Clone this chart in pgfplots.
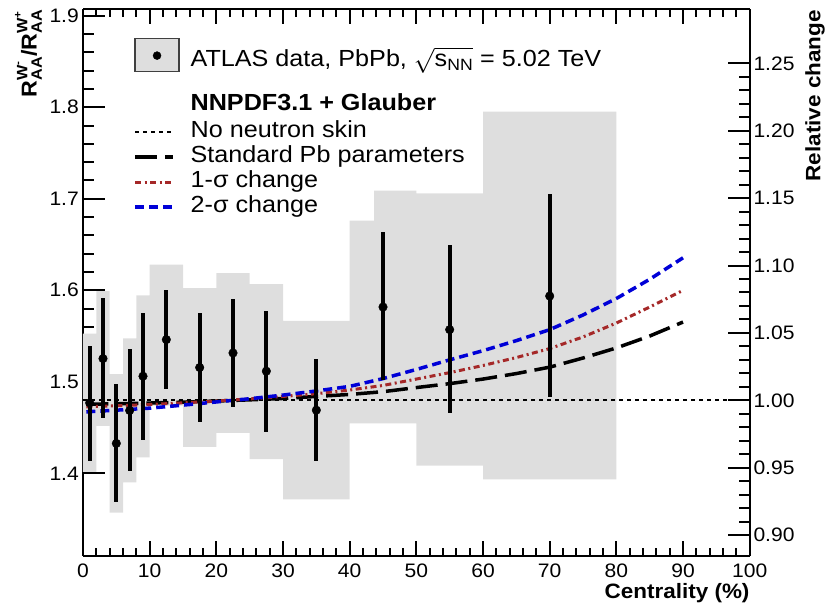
\documentclass[border=0pt]{standalone}
\usepackage{amsmath}
\usepackage{fontspec}
\setmainfont{Liberation Sans}[FakeStretch=1.08]
\usepackage{pgfplots}
\pgfplotsset{compat=1.18}
\usepackage{pgfplotstable}
\definecolor{boxgrey}{RGB}{222,222,222}
\definecolor{sigred}{RGB}{165,40,40}
\definecolor{sigblue}{RGB}{0,0,215}
\newcommand\tickfont{\fontsize{19.5}{21}\selectfont}
\newcommand\labfont{\bfseries\fontsize{20.8}{23}\selectfont}
\newcommand\ylabfont{\bfseries\fontsize{21.5}{23}\selectfont}

\pgfplotstableread{
x    y      ep     em
1    1.4770 0.0618 0.0633
3    1.5254 0.0661 0.0654
5    1.4327 0.0644 0.0637
7    1.4687 0.0669 0.0662
9    1.5061 0.0695 0.0698
12.5 1.5461 0.0538 0.0545
17.5 1.5156 0.0600 0.0600
22.5 1.5315 0.0585 0.0589
27.5 1.5116 0.0654 0.0662
35   1.4690 0.0556 0.0556
45   1.5817 0.0818 0.0800
55   1.5570 0.0920 0.0916
70   1.5937 0.1116 0.1108
}\atlasdata

\pgfplotstableread{
x    y
0.5  1.4755
5    1.4760
10   1.4768
15   1.4778
20   1.4790
25   1.4803
30   1.4818
35   1.4840
40   1.4862
45   1.4892
50   1.4937
55   1.4980
60   1.5030
65   1.5090
70   1.5160
75   1.5260
80   1.5370
85   1.5500
90   1.5653
}\standard

\pgfplotstableread{
x    y
0.5  1.4727
5    1.4738
10   1.4752
15   1.4770
20   1.4790
25   1.4813
30   1.4840
35   1.4870
40   1.4910
45   1.4960
50   1.5030
55   1.5100
60   1.5178
65   1.5265
70   1.5363
75   1.5490
80   1.5642
85   1.5817
90   1.5999
}\onesigma

\pgfplotstableread{
x    y
0.5  1.4672
5    1.4690
10   1.4712
15   1.4745
20   1.4780
25   1.4815
30   1.4855
35   1.4900
40   1.4950
45   1.5035
50   1.5135
55   1.5240
60   1.5340
65   1.5450
70   1.5570
75   1.5730
80   1.5910
85   1.6120
90   1.6355
}\twosigma

\pgfplotsset{
  common/.style={
    scale only axis, width=666.7pt, height=546.4pt,
    at={(0pt,0pt)}, anchor=south west,
    xmin=0, xmax=100,
    tick align=inside,
    axis line style={-, line width=2pt, black},
    tick style={line width=2pt, black},
    /pgf/number format/assume math mode=true,
    tick label style={font=\tickfont},
  },
}

\begin{document}
\begin{tikzpicture}
\useasboundingbox (-83pt,-55.3pt) rectangle (747pt,555.7pt);

% main axis: data, curves, left y axis, legend
\begin{axis}[common,
  ymin=1.31, ymax=1.907,
  axis x line=none, axis y line*=left,
  ytick={1.4,1.5,1.6,1.7,1.8,1.9}, minor y tick num=4,
  major tick length=22pt, minor tick length=11pt,
  yticklabel style={anchor=east, inner sep=0pt, xshift=-4pt,
    /pgf/number format/.cd, fixed, fixed zerofill, precision=1},
  ylabel={$\textbf{R}^{\textbf{W}^{\textbf{-}}}_{\textbf{AA}}\textbf{/}\textbf{R}^{\textbf{W}^{\textbf{+}}}_{\textbf{AA}}$},
  every axis y label/.style={at={(axis description cs:-0.0615,1)}, rotate=90,
    anchor=south east, inner sep=0pt, font=\ylabfont},
  legend cell align=left,
  legend image code/.code={\draw[#1] (0pt,1.5pt) -- (38.4pt,1.5pt);},
  legend style={at={(axis description cs:0.07545,0.9480)}, anchor=north west,
    draw=none, fill=none, inner sep=0pt, outer sep=0pt,
    /tikz/column sep=11pt, /tikz/row sep=0pt,
    font=\fontsize{23.3}{26}\selectfont,
    nodes={inner sep=0pt, outer sep=0pt, text height=16.5pt, text depth=8.7pt}},
]
% systematic uncertainty boxes
\addplot[fill=boxgrey, draw=none, forget plot] coordinates {
 (0,1.5527) (2,1.5527) (2,1.5991) (4,1.5991) (4,1.5083) (6,1.5083)
 (6,1.5475) (8,1.5475) (8,1.5944) (10,1.5944) (10,1.6279) (15,1.6279)
 (15,1.6024) (20,1.6024) (20,1.6188) (25,1.6188) (25,1.6068) (30,1.6068)
 (30,1.5665) (40,1.5665) (40,1.676) (43.65,1.676) (43.65,1.709) (50,1.709)
 (50,1.706) (60,1.706) (60,1.7951) (80,1.7951)
 (80,1.3935) (60,1.3935) (60,1.4083) (50,1.4083) (50,1.4545) (40,1.4545)
 (40,1.3716) (30,1.3716) (30,1.4156) (25,1.4156) (25,1.4443) (20,1.4443)
 (20,1.429) (15,1.429) (15,1.4741) (10,1.4741) (10,1.4174) (8,1.4174)
 (8,1.3901) (6,1.3901) (6,1.357) (4,1.357) (4,1.4519) (2,1.4519)
 (2,1.4017) (0,1.4017)
} -- cycle;

\addplot[black, line width=2pt, dash pattern=on 4pt off 4pt, forget plot]
  coordinates {(0,1.4796) (100,1.4796)};
\addplot[black, line width=3.5pt, dash pattern=on 22pt off 8pt, forget plot]
  table[x=x,y=y] {\standard};
\addplot[sigred, line width=3pt, dash pattern=on 6pt off 3.5pt on 2pt off 3.5pt, forget plot]
  table[x=x,y=y] {\onesigma};
\addplot[sigblue, line width=3.5pt, dash pattern=on 9pt off 5pt, forget plot]
  table[x=x,y=y] {\twosigma};

\addplot[only marks, mark=*, mark size=4.3pt, black, forget plot,
  error bars/.cd, y dir=both, y explicit, error mark=none,
  error bar style={line width=4pt, black}]
  table[x=x, y=y, y error plus=ep, y error minus=em] {\atlasdata};

% legend
\addlegendimage{legend image code/.code={
  \draw[fill=boxgrey, draw=black!75, line width=1.2pt] (0pt,-8.9pt) rectangle (44pt,24.1pt);
  \fill[black] (22pt,6.8pt) circle (4pt);
  \draw[opacity=0] (0pt,-31pt) -- (1pt,-31pt);}}
\addlegendentry{ATLAS data, PbPb, $\sqrt{\text{s}_{\text{NN}}}$ = 5.02 TeV}
\addlegendimage{legend image code/.code={\draw[opacity=0] (0pt,0pt) -- (1pt,-14.1pt);}}
\addlegendentry{\textbf{NNPDF3.1 + Glauber}}
\addlegendimage{black, line width=2pt, dash pattern=on 4pt off 4pt}
\addlegendentry{No neutron skin}
\addlegendimage{black, line width=3.5pt, dash pattern=on 22pt off 8pt}
\addlegendentry{Standard Pb parameters}
\addlegendimage{sigred, line width=3pt, dash pattern=on 6pt off 3.5pt on 2pt off 3.5pt}
\addlegendentry{1-σ change}
\addlegendimage{sigblue, line width=3.5pt, dash pattern=on 9pt off 5pt}
\addlegendentry{2-σ change}
\end{axis}

% x axis (bottom and top)
\begin{axis}[common,
  ymin=1.31, ymax=1.907,
  axis x line*=box, axis y line=none,
  xtick={0,10,...,100}, minor x tick num=4,
  major tick length=15pt, minor tick length=7.5pt,
  xticklabel style={anchor=north, inner sep=0pt, yshift=-8pt},
  xlabel={Centrality (\%)},
  every axis x label/.style={at={(axis description cs:1,-0.0775)},
    anchor=base east, inner sep=0pt, font=\labfont},
]
\addplot[draw=none, forget plot] coordinates {(0,1.5) (100,1.5)};
\end{axis}

% right axis: relative change
\begin{axis}[common,
  ymin=0.8847, ymax=1.2901,
  axis x line=none, axis y line*=right,
  ytick={0.90,0.95,1.00,1.05,1.10,1.15,1.20,1.25}, minor y tick num=4,
  major tick length=22pt, minor tick length=11pt,
  yticklabel style={anchor=west, inner sep=0pt, xshift=3.6pt,
    /pgf/number format/.cd, fixed, fixed zerofill, precision=2},
  ylabel={Relative change},
  every axis y label/.style={at={(axis description cs:1.0830,0.9987)}, rotate=90,
    anchor=north east, inner sep=0pt, font=\labfont},
]
\addplot[draw=none, forget plot] coordinates {(0,1) (100,1)};
\end{axis}
\end{tikzpicture}
\end{document}
